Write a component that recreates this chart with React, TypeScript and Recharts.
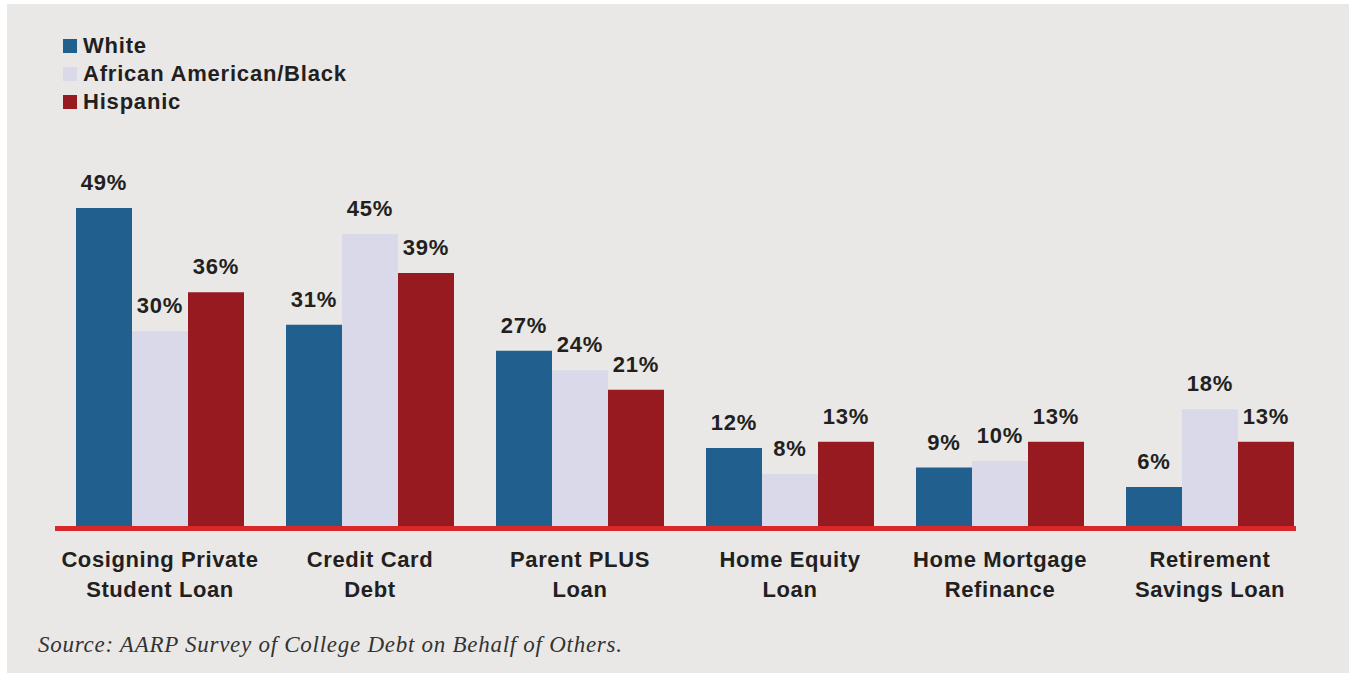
import { Bar, BarChart, LabelList, XAxis, YAxis } from "recharts";

const categories = [
  "Cosigning Private\nStudent Loan",
  "Credit Card\nDebt",
  "Parent PLUS\nLoan",
  "Home Equity\nLoan",
  "Home Mortgage\nRefinance",
  "Retirement\nSavings Loan",
];
const white = [49, 31, 27, 12, 9, 6];
const black = [30, 45, 24, 8, 10, 18];
const hispanic = [36, 39, 21, 13, 13, 13];

const seriesKeys = ["white", "black", "hispanic"];
const seriesNames = ["White", "African American/Black", "Hispanic"];
const colors = ["#215f8f", "#d9d9ea", "#961a20"];

const data = categories.map((c, i) => ({
  category: c,
  white: white[i],
  black: black[i],
  hispanic: hispanic[i],
}));

const ink = "#231f20";
const sans = "'Liberation Sans', Arial, sans-serif";

function CategoryTick(props: any) {
  const { x, y, payload } = props;
  const lines = String(payload.value).split("\n");
  return (
    <text
      x={x}
      y={y}
      textAnchor="middle"
      fill={ink}
      fontFamily={sans}
      fontWeight={700}
      fontSize={22}
      letterSpacing={0.6}
    >
      {lines.map((l, i) => (
        <tspan key={i} x={x} dy={i === 0 ? 41 : 29.5}>
          {l}
        </tspan>
      ))}
    </text>
  );
}

const pct = (v: any) => `${v}%`;

export default function App() {
  return (
    <div style={{ position: "absolute", left: 7, top: 4, width: 1342, height: 669, background: "#e9e8e6" }}>
      {/* legend, kept out of the chart so it doesn't eat plot space */}
      <div
        style={{
          position: "absolute",
          left: 56,
          top: 28,
          fontFamily: sans,
          fontWeight: 700,
          fontSize: 22,
          letterSpacing: 0.8,
          color: ink,
        }}
      >
        {seriesNames.map((n, i) => (
          <div key={n} style={{ display: "flex", alignItems: "center", height: 28 }}>
            <span style={{ width: 14, height: 14, background: colors[i], marginRight: 6, display: "inline-block" }} />
            <span>{n}</span>
          </div>
        ))}
      </div>
      <BarChart
        width={1342}
        height={669}
        data={data}
        margin={{ top: 197.5, right: 53, bottom: 47, left: 48 }}
        barCategoryGap="10%"
        barGap={0}
      >
        <XAxis
          dataKey="category"
          height={100}
          padding={{ left: 0, right: -19 }}
          tickLine={false}
          tickSize={0}
          tickMargin={0}
          interval={0}
          tick={<CategoryTick />}
          axisLine={{ stroke: "#d9282b", strokeWidth: 5, transform: "translate(0,2.5)" }}
        />
        <YAxis hide domain={[0, 50]} />
        {seriesKeys.map((k, i) => (
          <Bar key={k} dataKey={k} name={seriesNames[i]} fill={colors[i]} isAnimationActive={false}>
            <LabelList
              dataKey={k}
              position="top"
              offset={18}
              formatter={pct}
              fill={ink}
              fontFamily={sans}
              fontWeight={700}
              fontSize={22}
              letterSpacing={0.8}
            />
          </Bar>
        ))}
      </BarChart>
      <div
        style={{
          position: "absolute",
          left: 31,
          top: 627,
          fontFamily: "'Liberation Serif', 'Times New Roman', serif",
          fontStyle: "italic",
          fontSize: 23,
          lineHeight: "28px",
          color: "#333",
          letterSpacing: 0.73,
        }}
      >
        Source: AARP Survey of College Debt on Behalf of Others.
      </div>
    </div>
  );
}
